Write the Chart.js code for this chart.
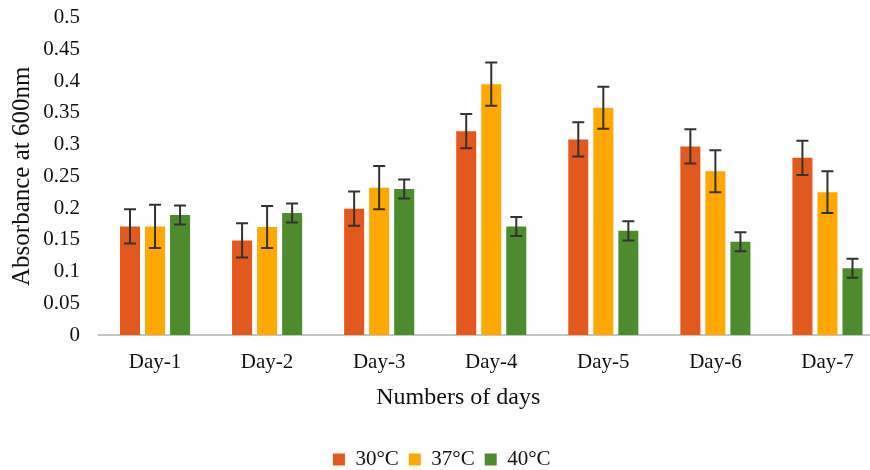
<!DOCTYPE html>
<html>
<head>
<meta charset="utf-8">
<script src="https://cdn.jsdelivr.net/npm/chart.js@4/dist/chart.umd.min.js"></script>
<style>
  html, body { margin: 0; padding: 0; overflow: hidden; background: #ffffff; }
  #wrap { width: 870px; height: 470px; overflow: hidden; position: relative; }
  canvas { display: block; }
</style>
</head>
<body>
<div id="wrap"><canvas id="c" width="892" height="480" style="width:892px;height:480px"></canvas></div>
<script>
// ---- data ----
const days = ['Day-1', 'Day-2', 'Day-3', 'Day-4', 'Day-5', 'Day-6', 'Day-7'];
const seriesNames = ['30\u00B0C', '37\u00B0C', '40\u00B0C'];
const abs30 = [0.171, 0.149, 0.199, 0.321, 0.308, 0.297, 0.279];
const abs37 = [0.171, 0.170, 0.232, 0.395, 0.358, 0.258, 0.225];
const abs40 = [0.189, 0.192, 0.230, 0.171, 0.164, 0.147, 0.105];
const err30 = [0.027, 0.027, 0.027, 0.027, 0.027, 0.027, 0.027];
const err37 = [0.034, 0.033, 0.034, 0.034, 0.033, 0.033, 0.033];
const err40 = [0.015, 0.015, 0.015, 0.015, 0.015, 0.015, 0.015];
const yTickValues = [0, 0.05, 0.1, 0.15, 0.2, 0.25, 0.3, 0.35, 0.4, 0.45, 0.5];
const yTickLabels = ['0', '0.05', '0.1', '0.15', '0.2', '0.25', '0.3', '0.35', '0.4', '0.45', '0.5'];
const yTitle = 'Absorbance at 600nm';
const xTitle = 'Numbers of days';

const colors = ['#E2581D', '#FFA800', '#4E8B2D'];
const SERIF = "'Liberation Serif', 'Times New Roman', serif";

const errorBars = {
  id: 'errorBars',
  afterDatasetsDraw(chart) {
    const ctx = chart.ctx;
    const y = chart.scales.y;
    ctx.save();
    ctx.strokeStyle = '#333333';
    ctx.lineWidth = 2;
    chart.data.datasets.forEach((ds, i) => {
      const meta = chart.getDatasetMeta(i);
      meta.data.forEach((bar, j) => {
        const v = ds.data[j], e = ds.errors[j];
        const yt = y.getPixelForValue(v + e);
        const yb = y.getPixelForValue(v - e);
        const cap = 6;
        ctx.beginPath();
        ctx.moveTo(bar.x, yt); ctx.lineTo(bar.x, yb);
        ctx.moveTo(bar.x - cap, yt); ctx.lineTo(bar.x + cap, yt);
        ctx.moveTo(bar.x - cap, yb); ctx.lineTo(bar.x + cap, yb);
        ctx.stroke();
      });
    });
    ctx.restore();
  }
};

const xTitlePlugin = {
  id: 'xTitlePlugin',
  afterDraw(chart, args, opts) {
    const ctx = chart.ctx;
    const a = chart.chartArea;
    ctx.save();
    ctx.font = opts.size + 'px ' + SERIF;
    ctx.fillStyle = '#111111';
    ctx.textAlign = 'center';
    ctx.textBaseline = 'middle';
    ctx.fillText(opts.text, (a.left + a.right) / 2 + opts.shift, a.bottom + opts.dy);
    ctx.restore();
  }
};

new Chart(document.getElementById('c'), {
  type: 'bar',
  data: {
    labels: days,
    datasets: [
      { label: seriesNames[0], data: abs30, errors: err30, backgroundColor: colors[0] },
      { label: seriesNames[1], data: abs37, errors: err37, backgroundColor: colors[1] },
      { label: seriesNames[2], data: abs40, errors: err40, backgroundColor: colors[2] }
    ]
  },
  plugins: [errorBars, xTitlePlugin],
  options: {
    responsive: false,
    animation: false,
    devicePixelRatio: 1,
    layout: { padding: { left: 0, right: 8.5, top: 17.5, bottom: 0 } },
    datasets: { bar: { categoryPercentage: 0.67, barPercentage: 0.8 } },
    scales: {
      x: {
        grid: { display: false, drawTicks: false },
        border: { display: true, color: '#C4C4C4', width: 2 },
        ticks: { padding: 15, color: '#111111', font: { family: SERIF, size: 21 } },
        afterFit: s => { s.height = 104; }
      },
      y: {
        min: 0, max: 0.5,
        afterBuildTicks: s => { s.ticks = yTickValues.map(v => ({ value: v })); },
        grid: { display: false, drawTicks: true, tickLength: 16 },
        border: { display: false },
        ticks: {
          padding: 3, color: '#111111', font: { family: SERIF, size: 21 },
          callback: (v, i) => yTickLabels[i]
        },
        title: {
          display: true, text: yTitle, color: '#111111',
          font: { family: SERIF, size: 25 }, padding: { top: 7, bottom: 0 }
        },
        afterFit: s => { s.width = 99; }
      }
    },
    plugins: {
      legend: {
        position: 'bottom',
        labels: {
          boxWidth: 12, boxHeight: 12, padding: 10, color: '#111111',
          font: { family: SERIF, size: 21 }
        }
      },
      tooltip: { enabled: false },
      xTitlePlugin: { text: xTitle, size: 24, shift: -33, dy: 63 }
    }
  }
});
</script>
</body>
</html>
